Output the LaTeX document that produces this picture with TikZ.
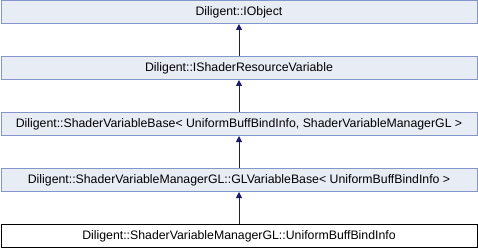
\documentclass[tikz,border=0pt]{standalone}
\usepackage{fontspec}
\setmainfont{Liberation Sans}
\usetikzlibrary{arrows.meta}
\definecolor{boxfill}{HTML}{E8ECF5}
\definecolor{boxline}{HTML}{8496C9}
\definecolor{inherit}{HTML}{191970}
\begin{document}
\begin{tikzpicture}[x=1pt,y=-1pt,
  cls/.style={draw=boxline,fill=boxfill,line width=1pt,minimum width=476pt,minimum height=23pt,inner sep=0pt,font=\fontsize{12.3}{14}\selectfont},
  leaf/.style={cls,draw=black,fill=white},
  isa/.style={draw=inherit,line width=1pt,-{Triangle[length=6pt,width=6pt]}}]
\useasboundingbox (0,0) rectangle (478,248);
\node[cls]  (obj)  at (239,12)  {Diligent::IObject};
\node[cls]  (srv)  at (239,68)  {Diligent::IShaderResourceVariable};
\node[cls]  (svb)  at (239,124) {Diligent::ShaderVariableBase< UniformBuffBindInfo, ShaderVariableManagerGL >};
\node[cls]  (glvb) at (239,180) {Diligent::ShaderVariableManagerGL::GLVariableBase< UniformBuffBindInfo >};
\node[leaf] (ubbi) at (239,236) {Diligent::ShaderVariableManagerGL::UniformBuffBindInfo};
\draw[isa] (srv)  -- (obj);
\draw[isa] (svb)  -- (srv);
\draw[isa] (glvb) -- (svb);
\draw[isa] (ubbi) -- (glvb);
\end{tikzpicture}
\end{document}
